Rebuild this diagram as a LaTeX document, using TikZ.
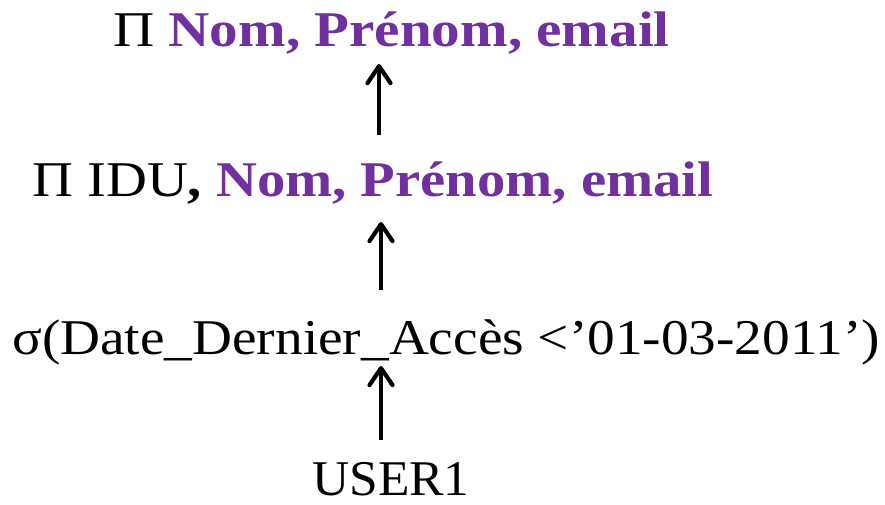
\documentclass[tikz,border=0pt]{standalone}
\usepackage{fontspec}
\setmainfont{Liberation Serif}
\usetikzlibrary{arrows.meta,calc}
\definecolor{violetfr}{RGB}{112,48,160}
\tikzset{
  lbl/.style={inner sep=0pt, anchor=base west, font=\fontsize{50}{60}\selectfont},
  arr/.style={line width=4.2pt, -{Straight Barb[length=17pt,width=23pt,line cap=round,line join=round]}},
}
\newcommand{\hlt}[1]{\textcolor{violetfr}{\textbf{#1}}}
\begin{document}
\begin{tikzpicture}[x=1pt,y=1pt]
\useasboundingbox (0,0) rectangle (885,505);
\node[lbl] (l1) at (113,458) {\scalebox{1.142}[1]{Π \hlt{Nom, Prénom, email}}};
\node[lbl] (l2) at (32,308) {\scalebox{1.133}[1]{Π IDU\textbf{,} \hlt{Nom, Prénom, email}}};
\node[lbl] (l3) at (12,150) {\scalebox{1.106}[1]{σ(Date\_Dernier\_Accès <’01-03-2011’)}};
\node[lbl] (l4) at (312,9) {\scalebox{1.03}[1]{USER1}};
\coordinate (ax1) at (379,0);
\coordinate (ax2) at (381,0);
\draw[arr] ($(l2.base -| ax1)+(0,62)$) -- ($(l1.base -| ax1)+(0,-17)$);
\draw[arr] ($(l3.base -| ax2)+(0,65)$) -- ($(l2.base -| ax2)+(0,-25)$);
\draw[arr] ($(l4.base -| ax2)+(0,56)$) -- ($(l3.base -| ax2)+(0,-11)$);
\end{tikzpicture}
\end{document}
